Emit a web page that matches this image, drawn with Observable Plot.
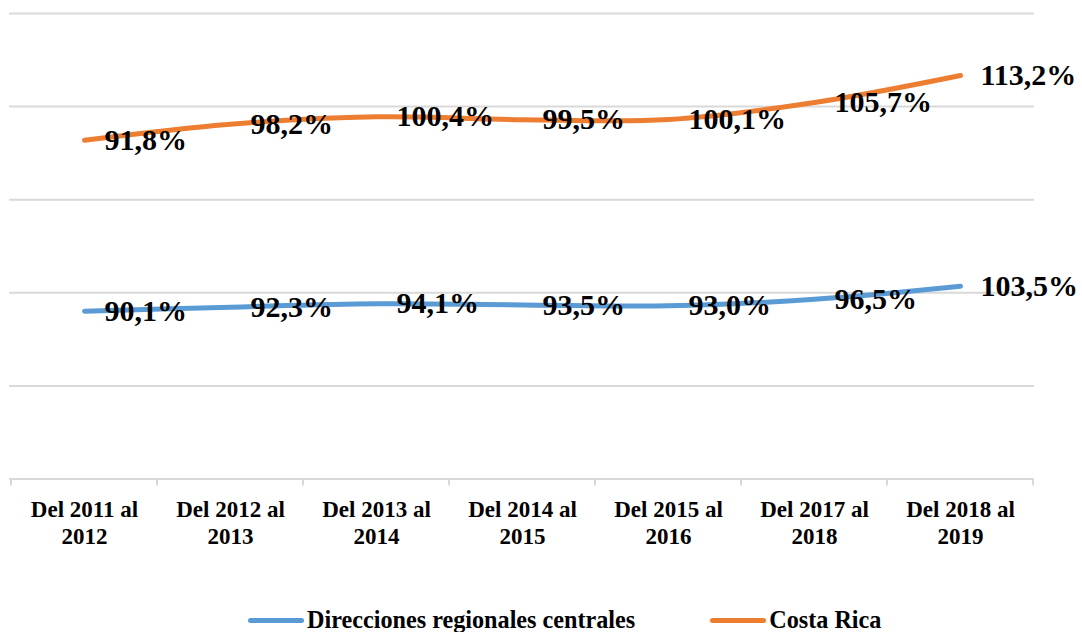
<!DOCTYPE html>
<html>
<head>
<meta charset="utf-8">
<script src="https://cdn.jsdelivr.net/npm/d3@7"></script>
<script src="https://cdn.jsdelivr.net/npm/@observablehq/plot@0.6"></script>
<style>
  html, body { margin: 0; padding: 0; background: #fff; }
  #wrap { position: relative; width: 1082px; height: 632px; }
  #legend { position: absolute; top: 608px; left: 248px; display: flex; align-items: center;
    font-family: "Liberation Serif", "Times New Roman", serif; font-weight: bold; font-size: 24.2px; line-height: 24px; color: #000; }
  .sw { display: inline-block; width: 56px; height: 5px; border-radius: 3px; margin-right: 3px; }
  .item { display: flex; align-items: center; }
</style>
</head>
<body>
<div id="wrap"><div id="chart"></div><div id="legend"></div></div>
<script>
const categories = ["Del 2011 al\n2012", "Del 2012 al\n2013", "Del 2013 al\n2014", "Del 2014 al\n2015", "Del 2015 al\n2016", "Del 2017 al\n2018", "Del 2018 al\n2019"];
const regionales = [90.1, 92.3, 94.1, 93.5, 93.0, 96.5, 103.5];
const costaRica = [91.8, 98.2, 100.4, 99.5, 100.1, 105.7, 113.2];
const seriesNames = ["Direcciones regionales centrales", "Costa Rica"];
const seriesColors = ["#5B9BD5", "#ED7D31"];
const gridTicks = [50, 100, 150, 200, 250];

const data = [];
categories.forEach((c, i) => data.push({cat: c, series: seriesNames[0], value: regionales[i]}));
categories.forEach((c, i) => data.push({cat: c, series: seriesNames[1], value: costaRica[i]}));

const fmt = v => v.toFixed(1).replace(".", ",") + "%";

const boundaryTicks = (index, scales) => {
  const x = scales.x, y0 = scales.y(0);
  const bw = x.bandwidth();
  const g = d3.create("svg:g");
  const xs = categories.map(c => x(c)).concat([x(categories[categories.length - 1]) + bw]);
  xs.forEach(px => g.append("line").attr("x1", px).attr("x2", px).attr("y1", y0).attr("y2", y0 + 7)
    .attr("stroke", "#d9d9d9").attr("stroke-width", 2));
  return g.node();
};

const chart = Plot.plot({
  width: 1082,
  height: 590,
  marginLeft: 9,
  marginRight: 48,
  marginTop: 13,
  marginBottom: 111.5,
  x: {type: "band", domain: categories, padding: 0},
  y: {domain: [0, 250], axis: null},
  color: {domain: seriesNames, range: seriesColors},
  style: {fontFamily: "'Liberation Serif', 'Times New Roman', serif", background: "white", color: "black"},
  marks: [
    Plot.ruleY(gridTicks, {stroke: "#d9d9d9", strokeWidth: 2}),
    Plot.ruleY([0], {stroke: "#d9d9d9", strokeWidth: 2}),
    boundaryTicks,
    Plot.axisX({tickSize: 0, tickPadding: 19, fontSize: 23, fontWeight: "bold", lineHeight: 1.17, fill: "black", label: null}),
    Plot.lineY(data, Plot.stackY2({x: "cat", y: "value", z: "series", stroke: "series", strokeWidth: 5, curve: "catmull-rom", strokeLinecap: "round"})),
    Plot.text(data, Plot.stackY2({x: "cat", y: "value", z: "series", text: d => fmt(d.value), textAnchor: "start", dx: 20, fontSize: 30, fontWeight: "bold", fill: "black"}))
  ]
});
document.getElementById("chart").appendChild(chart);

const legend = document.getElementById("legend");
seriesNames.forEach((name, i) => {
  const item = document.createElement("div");
  item.className = "item";
  if (i > 0) item.style.marginLeft = "75px";
  const sw = document.createElement("span");
  sw.className = "sw";
  sw.style.background = seriesColors[i];
  const t = document.createElement("span");
  t.textContent = name;
  item.appendChild(sw);
  item.appendChild(t);
  legend.appendChild(item);
});
</script>
</body>
</html>
